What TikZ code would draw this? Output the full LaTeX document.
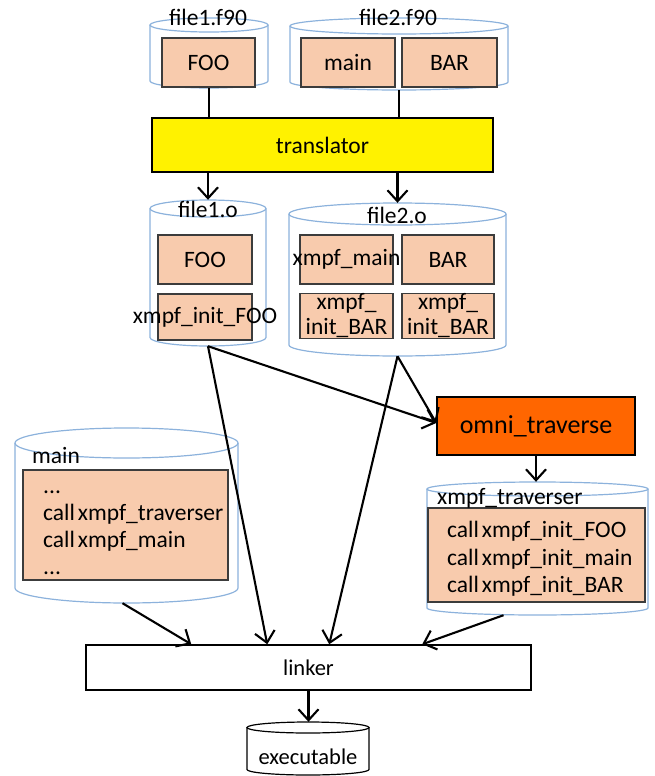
\documentclass[tikz,border=0pt]{standalone}
\usepackage{fontspec}
\setmainfont{Carlito}
\usetikzlibrary{arrows.meta,calc,fit}

\definecolor{cylline}{RGB}{140,178,220}
\definecolor{peach}{RGB}{248,203,173}
\definecolor{boxline}{RGB}{60,60,60}
\definecolor{omnifill}{RGB}{255,102,0}

% drum{name}{left}{top}{right}{bottom}{cap radius}{line colour}
\newcommand\drum[7]{%
  \node[inner sep=0, fit={(#2,#3) (#4,#5)}] (#1) {};
  \filldraw[draw=#7, fill=white, line width=1.2pt]
    (#2,#3+#6) -- (#2,#5-#6)
    arc[start angle=180, end angle=360, x radius={(#4-#2)/2*1pt}, y radius={#6*1pt}]
    -- (#4,#3+#6);
  \draw[draw=#7, line width=1.2pt]
    ({(#2+#4)/2},#3+#6) ellipse [x radius={(#4-#2)/2*1pt}, y radius={#6*1pt}];
}

\tikzset{
  txt/.style={font=\fontsize{23.5}{27}\selectfont, inner sep=0},
  pbox/.style={draw=boxline, fill=peach, line width=1.2pt, inner sep=0, txt},
  stage/.style={draw=black, line width=1.5pt, inner sep=0, txt},
  flow/.style={line width=2.1pt, -{Straight Barb[length=11pt,width=20pt,line width=2.1pt]}},
  plain/.style={line width=2.1pt},
}
\newcommand\callword{call\kern3pt}

\begin{document}
\begin{tikzpicture}[x=1pt, y=-1pt]
\path[use as bounding box] (0,0) rectangle (655,776);

% ---- sources ----
\drum{f1src}{150}{18}{268}{88}{7}{cylline}
\drum{f2src}{290}{18}{508}{90}{8}{cylline}
\node[pbox, minimum width=93pt, minimum height=49pt] (srcfoo)  at (208.5,62.5) {FOO};
\node[pbox, minimum width=94pt, minimum height=49pt] (srcmain) at (348,62.5)   {main};
\node[pbox, minimum width=95pt, minimum height=49pt] (srcbar)  at (449.5,62.5) {BAR};
\node[txt, anchor=base] (f1name) at (208,26) {file1.f90};
\node[txt, anchor=base] (f2name) at (398,26) {file2.f90};

% ---- translator ----
\node[stage, fill=yellow, minimum width=341pt, minimum height=54pt] (trans) at (322.5,145) {translator};

% ---- objects ----
\drum{f1obj}{150}{200}{266}{346}{8.5}{cylline}
\drum{f2obj}{289}{203}{506}{356}{11}{cylline}
\node[txt, anchor=base] (o1name) at (208,217) {file1.o};
\node[txt, anchor=base] (o2name) at (397,223) {file2.o};
\node[pbox, minimum width=94pt, minimum height=49pt] (objfoo)  at (205,259.5) {FOO};
\node[pbox, minimum width=94pt, minimum height=46pt] (objinit) at (205,317) {\makebox[0pt]{xmpf\_init\_FOO}};
\node[pbox, minimum width=93pt, minimum height=49pt] (objmain) at (346.5,259.5) {\makebox[0pt]{xmpf\_main}};
\node[pbox, minimum width=92pt, minimum height=49pt] (objbar)  at (448,259.5) {BAR};
\node[pbox, minimum width=93pt, minimum height=44pt, align=center] (objinitA) at (346.5,316) {xmpf\_\\[-2pt]init\_BAR};
\node[pbox, minimum width=92pt, minimum height=44pt, align=center] (objinitB) at (448,316) {xmpf\_\\[-2pt]init\_BAR};

% ---- traverse step ----
\node[stage, fill=omnifill, minimum width=198pt, minimum height=58pt,
      font=\fontsize{26}{30}\selectfont] (omni) at (536,426) {omni\_traverse};

% ---- main program ----
\drum{mainprog}{15}{428}{238}{603}{15}{cylline}
\node[pbox, minimum width=205pt, minimum height=110pt] (mainbox) at (125.5,525) {};
\node[txt, anchor=base west] (mainname) at (32,463) {main};
\node[txt, anchor=base west] (m1) at (43,493) {...};
\node[txt, anchor=base west] (m2) at (43,520) {\callword xmpf\_traverser};
\node[txt, anchor=base west] (m3) at (43,547) {\callword xmpf\_main};
\node[txt, anchor=base west] (m4) at (43,574) {...};

% ---- traverser ----
\drum{trav}{427}{482}{648}{615}{7}{cylline}
\node[pbox, minimum width=217pt, minimum height=94pt] (travbox) at (536.5,555) {};
\node[txt, anchor=base west] (travname) at (437,504) {xmpf\_traverser};
\node[txt, anchor=base west] (t1) at (447,537) {\callword xmpf\_init\_FOO};
\node[txt, anchor=base west] (t2) at (447,565) {\callword xmpf\_init\_main};
\node[txt, anchor=base west] (t3) at (447,592) {\callword xmpf\_init\_BAR};

% ---- linker and result ----
\node[stage, fill=white, minimum width=445pt, minimum height=45pt,
      font=\fontsize{22.5}{26}\selectfont] (linker) at (308.5,667.5) {linker};
\drum{exe}{247}{722}{369}{775}{5.5}{black}
\node[txt, anchor=base, font=\fontsize{22.5}{26}\selectfont] (exename) at (308,764) {executable};

% ---- connectors ----
\draw[plain] (f1src.south) -- (f1src.south |- trans.north);
\draw[plain] (f2src.south) -- (f2src.south |- trans.north);
\draw[flow] (f1obj.north |- trans.south) -- (f1obj.north);
\draw[flow] (f2obj.north |- trans.south) -- (f2obj.north);

\draw[flow] (f1obj.south) -- ($(omni.west)+(0,-3)$);
\draw[flow] (f2obj.south) -- ($(omni.west)+(0,-3)$);
\draw[flow] (f1obj.south) -- ($(linker.north west)+(182,0)$);
\draw[flow] (f2obj.south) -- ($(linker.north west)+(244,0)$);
\draw[flow] ($(mainprog.south)+(-4,0)$) -- ($(linker.north west)+(106,0)$);
\draw[flow] ($(trav.south)+(-34,0)$) -- ($(linker.north west)+(337,0)$);
\draw[flow] (omni.south) -- (omni.south |- trav.north);
\draw[flow] (linker.south) -- (linker.south |- exe.north);
\end{tikzpicture}
\end{document}
